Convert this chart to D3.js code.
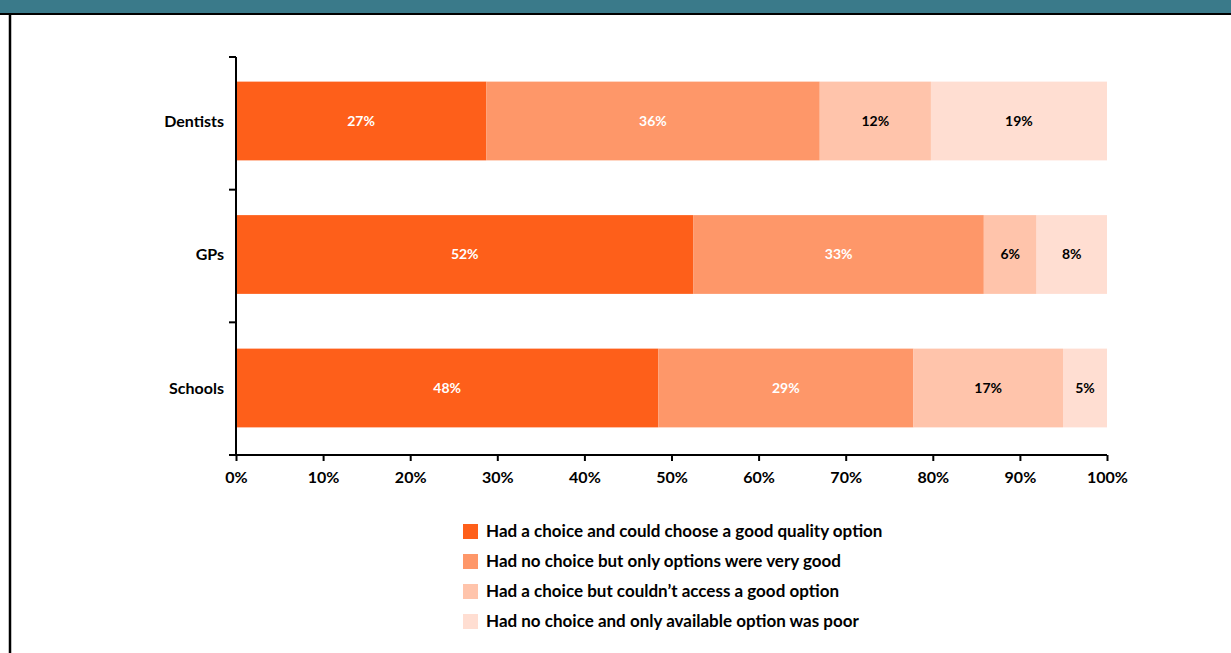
<!DOCTYPE html>
<html>
<head>
<meta charset="utf-8">
<style>
  html, body { margin: 0; padding: 0; background: #fff; }
  body { width: 1231px; height: 653px; overflow: hidden; }
  svg text { font-family: Lato, "Open Sans", sans-serif; font-weight: 700; }
</style>
</head>
<body>
<div id="chart"></div>
<script src="https://d3js.org/d3.v7.min.js"></script>
<script>
  // categories and series (labelled values, bars are stacked to 100%)
  const categories = ["Dentists", "GPs", "Schools"];
  const seriesNames = [
    "Had a choice and could choose a good quality option",
    "Had no choice but only options were very good",
    "Had a choice but couldn\u2019t access a good option",
    "Had no choice and only available option was poor"
  ];
  const goodChoice   = [27, 52, 48];
  const noChoiceGood = [36, 33, 29];
  const noAccess     = [12, 6, 17];
  const noChoicePoor = [19, 8, 5];
  const xTicks = [0, 0.1, 0.2, 0.3, 0.4, 0.5, 0.6, 0.7, 0.8, 0.9, 1];

  const colors = ["#FE5F1A", "#FE9769", "#FFC4AB", "#FFDED2"];
  const labelColors = ["#fff", "#fff", "#000", "#000"];

  const W = 1231, H = 653;
  const svg = d3.select("#chart").append("svg")
    .attr("width", W).attr("height", H);

  // frame: teal strip on top, black rules
  svg.append("rect").attr("x", 0).attr("y", 0).attr("width", W).attr("height", 13).attr("fill", "#3A7A8A");
  svg.append("line").attr("x1", 0).attr("x2", W).attr("y1", 14).attr("y2", 14)
    .attr("stroke", "#000").attr("stroke-width", 2);
  svg.append("line").attr("x1", 10).attr("x2", 10).attr("y1", 13).attr("y2", H)
    .attr("stroke", "#000").attr("stroke-width", 2.5);

  // build table for the stack
  const table = categories.map((c, i) => ({
    cat: c,
    s0: goodChoice[i], s1: noChoiceGood[i], s2: noAccess[i], s3: noChoicePoor[i]
  }));
  const keys = ["s0", "s1", "s2", "s3"];
  const stacked = d3.stack().keys(keys).offset(d3.stackOffsetExpand)(table);

  const x = d3.scaleLinear().domain([0, 1]).range([236, 1107]);
  const y = d3.scaleBand().domain(categories).range([54.25, 454.75]).paddingInner(0.41).paddingOuter(0.205);

  const layers = svg.append("g").selectAll("g")
    .data(stacked).enter().append("g")
    .attr("fill", (d, i) => colors[i]);

  layers.selectAll("rect")
    .data(d => d).enter().append("rect")
    .attr("x", d => x(d[0]))
    .attr("y", d => y(d.data.cat))
    .attr("width", d => x(d[1]) - x(d[0]))
    .attr("height", y.bandwidth());

  layers.each(function(layer, li) {
    d3.select(this).selectAll("text")
      .data(layer).enter().append("text")
      .attr("x", d => (x(d[0]) + x(d[1])) / 2)
      .attr("y", d => y(d.data.cat) + y.bandwidth() / 2)
      .attr("dy", "0.35em")
      .attr("text-anchor", "middle")
      .attr("font-size", 14)
      .attr("fill", labelColors[li])
      .text(d => d.data[layer.key] + "%");
  });

  // y axis with boundary ticks
  const yAxis = svg.append("g");
  yAxis.append("line").attr("x1", 236).attr("x2", 236).attr("y1", 57).attr("y2", 455)
    .attr("stroke", "#000").attr("stroke-width", 2);
  const bounds = d3.range(categories.length + 1).map(i => 57 + i * (455 - 57) / categories.length);
  yAxis.selectAll(".yt").data(bounds).enter().append("line")
    .attr("x1", 229).attr("x2", 236).attr("y1", d => d).attr("y2", d => d)
    .attr("stroke", "#000").attr("stroke-width", 2);
  yAxis.selectAll("text").data(categories).enter().append("text")
    .attr("x", 224)
    .attr("y", d => y(d) + y.bandwidth() / 2)
    .attr("dy", "0.35em")
    .attr("text-anchor", "end")
    .attr("font-size", 16)
    .text(d => d);

  // x axis
  const xAxis = svg.append("g").attr("transform", "translate(0,455)")
    .call(d3.axisBottom(x).tickValues(xTicks).tickFormat(d3.format(".0%")).tickSize(6).tickPadding(11));
  xAxis.select(".domain").attr("stroke-width", 2).attr("d", "M229,0H1107");
  xAxis.selectAll(".tick line").attr("stroke-width", 2);
  xAxis.selectAll(".tick text").attr("font-size", 16).attr("fill", "#000")
    .style("font-family", "Lato, sans-serif").style("font-weight", 700);

  // legend
  const legend = svg.append("g").selectAll("g")
    .data(seriesNames).enter().append("g")
    .attr("transform", (d, i) => `translate(463,${524 + i * 30})`);
  legend.append("rect").attr("width", 15).attr("height", 15)
    .attr("fill", (d, i) => colors[i]);
  legend.append("text").attr("x", 23).attr("y", 7.5).attr("dy", "0.35em")
    .attr("font-size", 17).text(d => d);
</script>
</body>
</html>
